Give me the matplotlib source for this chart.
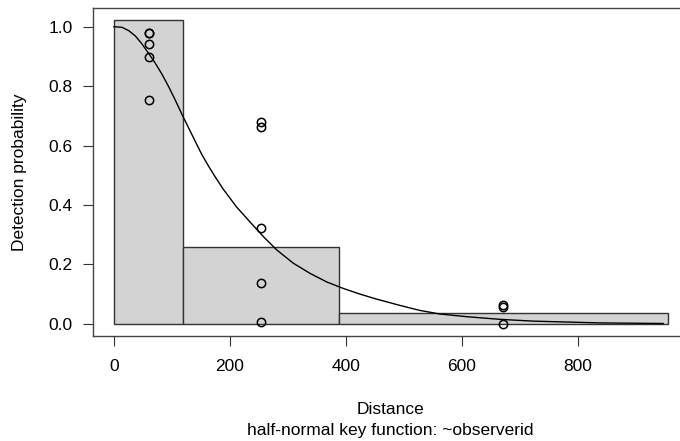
import matplotlib
matplotlib.use("Agg")
import matplotlib.pyplot as plt
import numpy as np

plt.rcParams['font.family'] = ['Liberation Sans', 'DejaVu Sans']

# histogram of scaled detections
bin_edges = [0, 119.5, 388.5, 955.7]
bin_heights = [1.023, 0.258, 0.035]

# observed detection probabilities at bin midpoints
obs_x = [60, 60, 60, 60, 60,
         253, 253, 253, 253, 253,
         671, 671, 671]
obs_y = [0.980, 0.980, 0.941, 0.898, 0.752,
         0.679, 0.662, 0.322, 0.139, 0.006,
         0.062, 0.055, 0.0]

# average fitted detection function
curve_x = [0, 13.8, 25.3, 36.8, 48.3, 59.8, 71.3, 82.8, 94.3, 105.7, 117.2,
           128.8, 140.2, 151.7, 163.3, 174.7, 188.5, 211.5, 234.5, 257.4,
           280.5, 309.2, 337.9, 366.7, 395.4, 424.1, 453, 493, 527.6, 562,
           608, 665.5, 723, 780.5, 838, 947]
curve_y = [1.0, 0.998, 0.987, 0.969, 0.942, 0.910, 0.877, 0.840, 0.798,
           0.753, 0.705, 0.659, 0.614, 0.569, 0.530, 0.494, 0.453, 0.393,
           0.343, 0.294, 0.249, 0.204, 0.170, 0.141, 0.119, 0.100, 0.083,
           0.062, 0.045, 0.033, 0.024, 0.015, 0.009, 0.006, 0.003, 0.001]

xticks = [0, 200, 400, 600, 800]
yticks = [0.0, 0.2, 0.4, 0.6, 0.8, 1.0]

fig = plt.figure(figsize=(6.8, 4.41), dpi=100)
ax = fig.add_axes([0.1363, 0.2388, 0.8754, 0.7424])

widths = np.diff(bin_edges)
ax.bar(bin_edges[:-1], bin_heights, width=widths, align='edge',
       color='#d3d3d3', edgecolor='#333333', linewidth=1.0, zorder=1)
ax.plot(curve_x, curve_y, color='black', linewidth=1.0, zorder=2)
ax.plot(obs_x, obs_y, 'o', markerfacecolor='none', markeredgecolor='black',
        markersize=6, markeredgewidth=1.1, zorder=3)

ax.set_xlim(-36.7, 989.7)
ax.set_ylim(-0.040, 1.062)
ax.set_xticks(xticks)
ax.set_xticklabels([str(t) for t in xticks])
ax.set_yticks(yticks)
ax.set_yticklabels([f'{t:.1f}' for t in yticks])
ax.tick_params(axis='both', length=7.5, width=0.8, colors='#333333',
               labelcolor='black', labelsize=12.5)
ax.tick_params(axis='x', pad=9)
ax.tick_params(axis='y', pad=7)
for s in ax.spines.values():
    s.set_color('#444444')
    s.set_linewidth(1.0)

fig.text(390.5 / 680, 1 - 410 / 441, 'Distance', ha='center', va='center',
         fontsize=12.5)
fig.text(390.5 / 680, 1 - 430 / 441, 'half-normal key function: ~observerid',
         ha='center', va='center', fontsize=12.5)
fig.text(20 / 680, 1 - 172 / 441, 'Detection probability', ha='center',
         va='center', rotation=90, fontsize=12.5)

fig.savefig('out.png', dpi=100)
